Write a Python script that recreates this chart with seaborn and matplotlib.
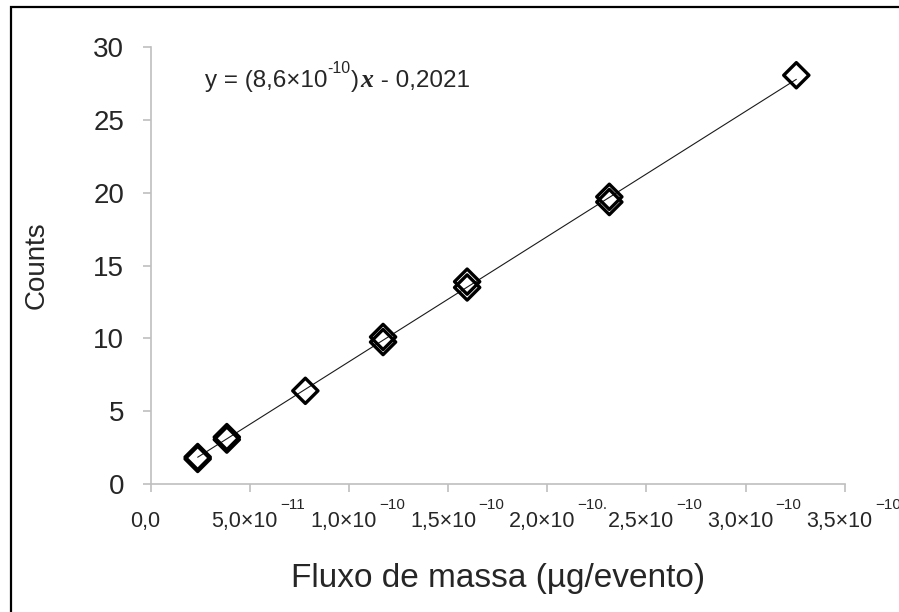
import matplotlib
matplotlib.use("Agg")
import matplotlib.pyplot as plt
import numpy as np
import pandas as pd
import seaborn as sns
from matplotlib import font_manager
from matplotlib.patches import Rectangle
from matplotlib.transforms import IdentityTransform, ScaledTranslation

# Measured points: mass flux per event (µg) vs counts
mass_flux = [2.37e-11, 2.37e-11, 3.84e-11, 3.84e-11, 7.80e-11,
             11.72e-11, 11.72e-11, 15.96e-11, 15.96e-11,
             23.13e-11, 23.13e-11, 32.56e-11]
counts = [1.72, 1.85, 3.05, 3.22, 6.40,
          9.75, 10.10, 13.50, 13.90,
          19.37, 19.73, 28.08]

# Linear fit
slope = 8.6e10
intercept = -0.2021

x_ticks = [0.0, 5e-11, 1e-10, 1.5e-10, 2e-10, 2.5e-10, 3e-10, 3.5e-10]
x_tick_mantissa = ["0,0", "5,0×10", "1,0×10", "1,5×10", "2,0×10", "2,5×10", "3,0×10", "3,5×10"]
x_tick_exponent = ["", "−11", "−10", "−10", "−10.", "−10", "−10", "−10"]
y_ticks = [0, 5, 10, 15, 20, 25, 30]

sns.set_theme(style="white")


def pick_font(name, fallback):
    try:
        font_manager.findfont(name, fallback_to_default=False)
        return name
    except Exception:
        return fallback


narrow = pick_font("Liberation Sans Narrow", "Liberation Sans")
plt.rcParams["font.family"] = ["Liberation Sans", "DejaVu Sans"]

df = pd.DataFrame({"flux": mass_flux, "counts": counts})
fit_x = np.array([min(mass_flux), max(mass_flux)])
fit_df = pd.DataFrame({"flux": fit_x, "counts": slope * fit_x + intercept})

W, H = 899, 612
fig = plt.figure(figsize=(W / 100, H / 100), dpi=100)
ax = fig.add_axes([0.1676, 0.2092, 0.772, 0.7135])

sns.lineplot(data=fit_df, x="flux", y="counts", ax=ax, color="#1a1a1a",
             linewidth=0.8, zorder=2)
sns.scatterplot(data=df, x="flux", y="counts", ax=ax, marker="D", s=165,
                facecolor="none", edgecolor="black", linewidth=2.4, zorder=3)

ax.set_xlim(0, 3.5e-10)
ax.set_ylim(0, 30)

grey = "#BFBFBF"
for side in ("top", "right"):
    ax.spines[side].set_visible(False)
for side in ("left", "bottom"):
    ax.spines[side].set_color(grey)
    ax.spines[side].set_linewidth(1.2)

ax.set_yticks(y_ticks)
ax.set_yticklabels([str(v) for v in y_ticks], fontsize=20)
ax.set_xticks(x_ticks)
ax.set_xticklabels([])

ax.tick_params(axis="y", direction="out", length=6, width=1.2, color=grey, pad=13, left=True)
ax.tick_params(axis="x", direction="out", length=6, width=1.2, color=grey, bottom=True)

ax.set_xlabel("Fluxo de massa (µg/evento)", fontsize=24)
ax.set_ylabel("Counts", fontsize=20)
ax.xaxis.set_label_coords(0.5, -0.18)
ax.yaxis.set_label_coords(-0.145, 0.5)

# X tick labels: mantissa on the baseline, exponent raised to its right
label_offset = ScaledTranslation(-5 / 100, -43 / 100, fig.dpi_scale_trans)
mantissa_texts = []
for xv, m in zip(x_ticks, x_tick_mantissa):
    mantissa_texts.append(
        ax.text(xv, 0, m, transform=ax.get_xaxis_transform() + label_offset,
                fontsize=15.5, fontfamily=narrow, ha="center", va="baseline",
                clip_on=False))

fig.canvas.draw()
renderer = fig.canvas.get_renderer()

for t, exp in zip(mantissa_texts, x_tick_exponent):
    if not exp:
        continue
    _, by = t.get_transform().transform(t.get_position())
    bb = t.get_window_extent(renderer)
    fig.text(bb.x1 + 2, by + 18, exp, transform=IdentityTransform(),
             fontsize=11, fontfamily=narrow, ha="left", va="baseline")

# Regression equation, composed piece by piece: (text, size, rise px, style)
eq_pieces = [
    ("y = (8,6×10", 17.5, 0, {}),
    ("-10", 11.5, 14, {}),
    (")", 17.5, 0, {}),
    ("x", 18.5, 0, {"fontfamily": "Liberation Serif", "fontweight": "bold", "fontstyle": "italic"}),
    (" - 0,2021", 17.5, 0, {}),
]
px, py = 205, H - 87
for text, size, rise, props in eq_pieces:
    t = fig.text(px, py + rise, text, transform=IdentityTransform(), fontsize=size,
                 ha="left", va="baseline", **props)
    px = t.get_window_extent(renderer).x1 + (2 if text == ")" else 0)

# Chart-area frame
fig.patches.append(Rectangle((11 / W, -0.05), 1.2, 0.9886 + 0.05,
                             transform=fig.transFigure, fill=False,
                             edgecolor="black", linewidth=1.6))

fig.savefig("out.png", dpi=100)
